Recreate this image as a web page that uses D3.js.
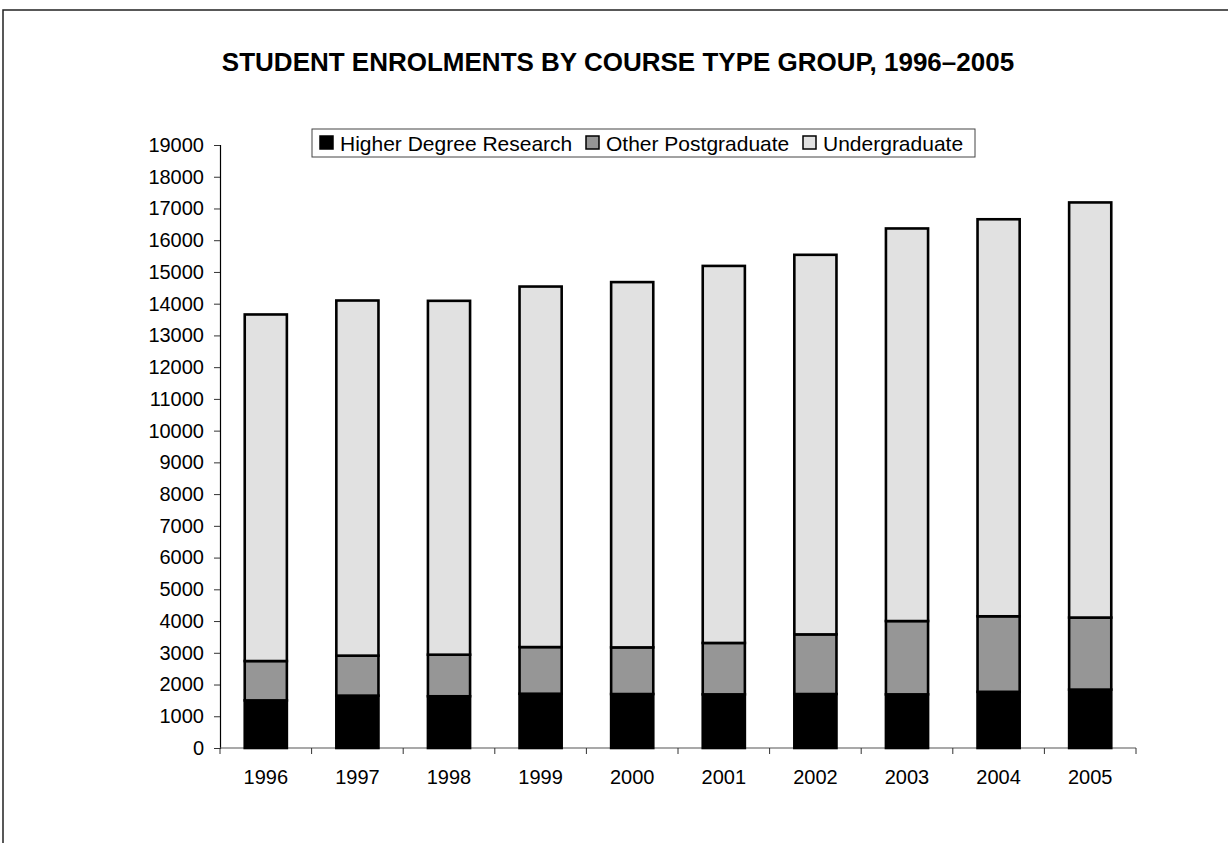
<!DOCTYPE html>
<html>
<head>
<meta charset="utf-8">
<script src="https://cdn.jsdelivr.net/npm/d3@7"></script>
<style>
  body { margin: 0; background: #fff; }
  svg { display: block; font-family: "Liberation Sans", Arial, sans-serif; }
</style>
</head>
<body>
<div id="chart"></div>
<script>
// data
const years = ["1996", "1997", "1998", "1999", "2000", "2001", "2002", "2003", "2004", "2005"];
const higherDegree = [1500, 1650, 1630, 1710, 1700, 1690, 1700, 1690, 1770, 1840];
const otherPostgrad = [1240, 1260, 1310, 1470, 1470, 1620, 1880, 2310, 2380, 2270];
const undergrad = [10920, 11190, 11150, 11360, 11510, 11880, 11960, 12370, 12510, 13080];
const seriesNames = ["Higher Degree Research", "Other Postgraduate", "Undergraduate"];
const yTicks = d3.range(0, 19001, 1000);

const width = 1228, height = 843;
const margin = { left: 220, right: 92, top: 145, bottom: 95 };

const svg = d3.select("#chart").append("svg")
    .attr("width", width)
    .attr("height", height);

// outer frame (only top and left edges show)
svg.append("path")
    .attr("d", `M3,${height} V10 H${width}`)
    .attr("fill", "none")
    .attr("stroke", "#222")
    .attr("stroke-width", 1.5);

const x = d3.scaleBand()
    .domain(years)
    .range([margin.left, width - margin.right])
    .paddingInner(0.54)
    .paddingOuter(0.27);

const y = d3.scaleLinear()
    .domain([0, 19000])
    .range([height - margin.bottom, margin.top]);

const rows = years.map((yr, i) => ({
    year: yr,
    "Higher Degree Research": higherDegree[i],
    "Other Postgraduate": otherPostgrad[i],
    "Undergraduate": undergrad[i]
}));

const stack = d3.stack().keys(seriesNames);
const layers = stack(rows);

const colors = d3.scaleOrdinal()
    .domain(seriesNames)
    .range(["#000000", "#969696", "#e1e1e1"]);

// title
svg.append("text")
    .attr("x", 618)
    .attr("y", 71)
    .attr("text-anchor", "middle")
    .style("font-weight", "bold")
    .style("font-size", "26px")
    .text("STUDENT ENROLMENTS BY COURSE TYPE GROUP, 1996\u20132005");

// axes
const yAxis = svg.append("g")
    .attr("transform", `translate(${margin.left},0)`)
    .call(d3.axisLeft(y).tickValues(yTicks).tickSize(6).tickFormat(d3.format("d")));
yAxis.selectAll("text").style("font-size", "20px").attr("x", -16).attr("fill", "#000");
yAxis.select(".domain").attr("stroke", "#000").attr("stroke-width", 1.2);
yAxis.selectAll(".tick line").attr("stroke", "#333");

const xAxisG = svg.append("g")
    .attr("transform", `translate(0,${y(0)})`);
xAxisG.append("line")
    .attr("x1", margin.left).attr("x2", width - margin.right)
    .attr("stroke", "#555").attr("stroke-width", 1.2);
const bounds = d3.range(years.length + 1).map(i => margin.left + i * x.step());
xAxisG.selectAll("line.tk")
    .data(bounds)
    .enter().append("line")
    .attr("class", "tk")
    .attr("x1", d => d).attr("x2", d => d)
    .attr("y1", 0).attr("y2", 6)
    .attr("stroke", "#333");
xAxisG.selectAll("text")
    .data(years)
    .enter().append("text")
    .attr("x", d => x(d) + x.bandwidth() / 2)
    .attr("y", 36)
    .attr("text-anchor", "middle")
    .style("font-size", "20px")
    .text(d => d);

// bars
svg.append("g").selectAll("g")
    .data(layers)
    .enter().append("g")
    .attr("fill", d => colors(d.key))
    .selectAll("rect")
    .data(d => d)
    .enter().append("rect")
    .attr("x", d => x(d.data.year))
    .attr("y", d => y(d[1]))
    .attr("width", x.bandwidth())
    .attr("height", d => y(d[0]) - y(d[1]))
    .attr("stroke", "#000")
    .attr("stroke-width", 2.6);

// legend
const legend = svg.append("g").attr("transform", "translate(312,129)");
legend.append("rect")
    .attr("width", 663).attr("height", 28)
    .attr("fill", "#fff").attr("stroke", "#444").attr("stroke-width", 1);
const legendX = [8, 274, 491];
const items = legend.selectAll("g.item")
    .data(seriesNames)
    .enter().append("g")
    .attr("transform", (d, i) => `translate(${legendX[i]},7)`);
items.append("rect")
    .attr("width", 13).attr("height", 13)
    .attr("fill", d => colors(d))
    .attr("stroke", "#000").attr("stroke-width", 1.5);
items.append("text")
    .attr("x", 20).attr("y", 15)
    .style("font-size", "21px")
    .text(d => d);
</script>
</body>
</html>
